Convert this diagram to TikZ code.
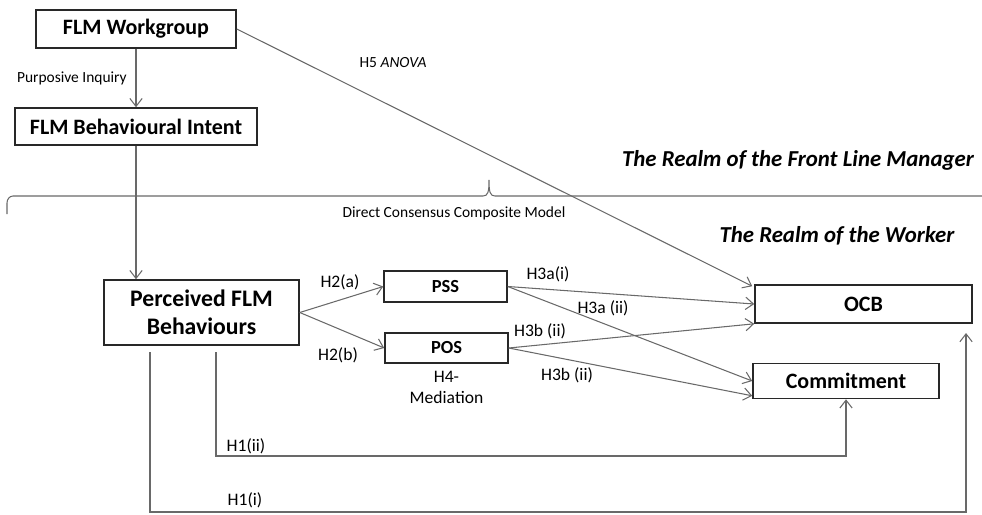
\documentclass[tikz,border=0pt]{standalone}
\usepackage{fontspec}
\setmainfont{Carlito}
\usetikzlibrary{arrows.meta,positioning,calc}

\definecolor{linegray}{RGB}{105,105,105}
\definecolor{boxgray}{RGB}{40,40,40}

\tikzset{
  box/.style={draw=boxgray,line width=0.9pt,inner sep=0pt,font=\bfseries},
  arr/.style={draw=linegray,line width=0.6pt,-{Straight Barb[length=4.5pt,width=7pt]}},
  conn/.style={draw=linegray,line width=0.6pt},
  lbl/.style={font=\fontsize{8.8}{11}\selectfont,inner sep=0pt},
  hlbl/.style={font=\fontsize{10}{12}\selectfont,inner sep=0pt},
  realm/.style={font=\fontsize{13}{15}\selectfont\bfseries\itshape,inner sep=0pt}
}

\begin{document}
\begin{tikzpicture}[x=0.02cm,y=-0.02cm]
    \useasboundingbox (0,0) rectangle (982,514);

    % boxes
    \node[box,minimum width=4cm,minimum height=0.76cm,font=\fontsize{12.5}{14}\selectfont\bfseries] (wg) at (136,29) {FLM Workgroup};
    \node[box,minimum width=4.84cm,minimum height=0.74cm,font=\fontsize{12.5}{14}\selectfont\bfseries] (intent) at (136,126.5) {FLM Behavioural Intent};
    \node[box,minimum width=3.9cm,minimum height=1.3cm,align=center,font=\fontsize{13.5}{16}\selectfont\bfseries] (pfb) at (201.5,312.5) {Perceived FLM\\Behaviours};
    \node[box,minimum width=2.46cm,minimum height=0.62cm,font=\fontsize{10.5}{12}\selectfont\bfseries] (pss) at (445.5,286.5) {PSS};
    \node[box,minimum width=2.46cm,minimum height=0.6cm,font=\fontsize{10.5}{12}\selectfont\bfseries] (pos) at (446.5,348) {POS};
    \node[box,minimum width=4.34cm,minimum height=0.76cm,font=\fontsize{12.5}{14}\selectfont\bfseries] (ocb) at (863.5,304) {OCB};
    \node[box,minimum width=3.72cm,minimum height=0.7cm,font=\fontsize{12.5}{14}\selectfont\bfseries] (com) at (846,381) {Commitment};

    % realms and the brace
    \node[realm] (mgr) at (798,160) {The Realm of the Front Line Manager};
    \node[realm] (wkr) at (837,236) {The Realm of the Worker};
    \draw[conn] (7,214) -- (7,203) to[out=90,in=180] (13,196) -- (483,196)
      .. controls (488,196) and (489,192) .. (489,180)
      .. controls (489,192) and (490,196) .. (495,196) -- (982,196);
    \node[lbl] (dccm) at (454,213) {Direct Consensus Composite Model};

    % manager side
    \draw[arr] (wg) -- node[lbl,left=5pt] {Purposive Inquiry} (intent);
    \draw[arr] (intent.south) -- (intent.south |- pfb.north);
    \draw[arr] (wg.east) -- ([xshift=-0.04cm,yshift=-0.04cm]ocb.north west);
    \node[lbl] (h5) at (393,63) {H5 \textit{ANOVA}};

    % worker side
    \draw[arr] (pfb.east) -- (pss.west);
    \draw[arr] (pfb.east) -- (pos.west);
    \node[hlbl] (h2a) at (340,282) {H2(a)};
    \node[hlbl] (h2b) at (338,355) {H2(b)};

    \draw[arr] (pss.east) -- (ocb.west);
    \draw[arr] (pss.east) -- (com.west);
    \draw[arr] (pos.east) -- (ocb.south west);
    \draw[arr] (pos.east) -- ([yshift=0.07cm]com.south west);
    \node[hlbl] (h3ai) at (548,274) {H3a(i)};
    \node[hlbl] (h3aii) at (603,308) {H3a (ii)};
    \node[hlbl] (h3bi) at (540,331) {H3b (ii)};
    \node[hlbl] (h3bii) at (567,375) {H3b (ii)};
    \node[hlbl,align=center,below=4pt of pos] (h4) {H4-\\Mediation};

    % direct paths
    \coordinate (h1iistart) at (216,352);
    \coordinate (h1istart) at (150,352);
    \coordinate (h1iend) at (966,333);
    \draw[arr] (h1iistart) -- ++(0,104) -| (com.south);
    \draw[arr] (h1istart) -- ++(0,160) -| (h1iend);
    \node[hlbl] (h1ii) at (246,446) {H1(ii)};
    \node[hlbl] (h1i) at (245,500) {H1(i)};
\end{tikzpicture}
\end{document}
